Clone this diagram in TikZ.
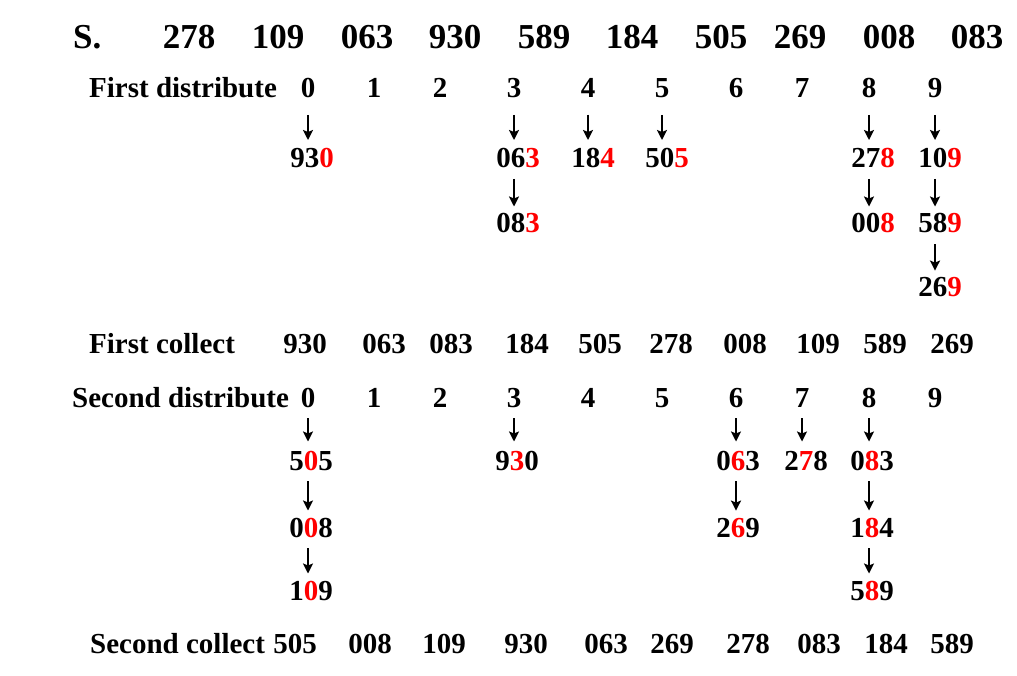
\documentclass[tikz,border=0pt]{standalone}
\usepackage{fontspec}
\setmainfont{Liberation Serif}
\usetikzlibrary{arrows.meta}
\definecolor{hl}{RGB}{255,0,0}
\newcommand\rd[1]{\textcolor{hl}{#1}}
\tikzset{
  txt/.style={inner sep=0pt, anchor=base, font=\fontsize{29}{29}\selectfont\bfseries},
  ttl/.style={inner sep=0pt, anchor=base, font=\fontsize{35}{35}\selectfont\bfseries},
  lbl/.style={txt, anchor=base west},
  arr/.style={line width=2.2pt, -{Stealth[length=10pt,width=10pt,inset=2pt]}},
  arrfirst/.style={arr, shorten <=17pt, shorten >=8pt},
  arrsec/.style={arr, shorten <=11pt, shorten >=9pt},
  arrchain/.style={arr, shorten <=11pt, shorten >=7pt},
}
\begin{document}
\begin{tikzpicture}[x=1pt,y=-1pt]
\useasboundingbox (0,0) rectangle (1017,676);
% title row
\node[ttl, anchor=base west] (S) at (73,49) {S.};
\foreach \v/\x [count=\i] in {278/189,109/278,063/367,930/455,589/544,184/632,505/721,269/800,008/889,083/977}
  \node[ttl] (s\i) at (\x,49) {\v};
% first distribute
\node[lbl] (fd) at (89,97.5) {First distribute};
\foreach \d/\x in {0/308,1/374,2/440,3/514,4/588,5/662,6/736,7/802,8/869,9/935}
  \node[txt] (a\d) at (\x,97.5) {\d};
\node[txt] (a0p) at (312,167.5) {93\rd{0}};
\node[txt] (a3p) at (518,167.5) {06\rd{3}};
\node[txt] (a3q) at (518,233) {08\rd{3}};
\node[txt] (a4p) at (593,167.5) {18\rd{4}};
\node[txt] (a5p) at (667,167.5) {50\rd{5}};
\node[txt] (a8p) at (873,167.5) {27\rd{8}};
\node[txt] (a8q) at (873,233) {00\rd{8}};
\node[txt] (a9p) at (940,167.5) {10\rd{9}};
\node[txt] (a9q) at (940,233) {58\rd{9}};
\node[txt] (a9r) at (940,297) {26\rd{9}};
\foreach \c in {0,3,4,5,8,9}
  \draw[arrfirst] (a\c.south) -- (a\c.south |- a\c p.north);
\draw[arrchain] (a3.south |- a3p.south) -- (a3.south |- a3q.north);
\draw[arrchain] (a8.south |- a8p.south) -- (a8.south |- a8q.north);
\draw[arrchain] (a9.south |- a9p.south) -- (a9.south |- a9q.north);
\draw[arrchain] (a9.south |- a9q.south) -- (a9.south |- a9r.north);
% first collect
\node[lbl] (fc) at (89,353) {First collect};
\foreach \v/\x [count=\i] in {930/305,063/384,083/451,184/527,505/600,278/671,008/745,109/818,589/885,269/952}
  \node[txt] (c\i) at (\x,353) {\v};
% second distribute
\node[lbl] (sd) at (72,407) {Second distribute};
\foreach \d/\x in {0/308,1/374,2/440,3/514,4/588,5/662,6/736,7/802,8/869,9/935}
  \node[txt] (b\d) at (\x,407) {\d};
\node[txt] (b0p) at (311,470) {5\rd{0}5};
\node[txt] (b0q) at (311,537) {0\rd{0}8};
\node[txt] (b0r) at (311,600) {1\rd{0}9};
\node[txt] (b3p) at (517,470) {9\rd{3}0};
\node[txt] (b6p) at (738,470) {0\rd{6}3};
\node[txt] (b6q) at (738,537) {2\rd{6}9};
\node[txt] (b7p) at (806,470) {2\rd{7}8};
\node[txt] (b8p) at (872,470) {0\rd{8}3};
\node[txt] (b8q) at (872,537) {1\rd{8}4};
\node[txt] (b8r) at (872,600) {5\rd{8}9};
\foreach \c in {0,3,6,7,8}
  \draw[arrsec] (b\c.south) -- (b\c.south |- b\c p.north);
\draw[arrchain] (b0.south |- b0p.south) -- (b0.south |- b0q.north);
\draw[arrchain] (b0.south |- b0q.south) -- (b0.south |- b0r.north);
\draw[arrchain] (b6.south |- b6p.south) -- (b6.south |- b6q.north);
\draw[arrchain] (b8.south |- b8p.south) -- (b8.south |- b8q.north);
\draw[arrchain] (b8.south |- b8q.south) -- (b8.south |- b8r.north);
% second collect
\node[lbl] (sc) at (90,653) {Second collect};
\foreach \v/\x [count=\i] in {505/295,008/370,109/444,930/526,063/606,269/672,278/748,083/819,184/886,589/952}
  \node[txt] (e\i) at (\x,653) {\v};
\end{tikzpicture}
\end{document}
